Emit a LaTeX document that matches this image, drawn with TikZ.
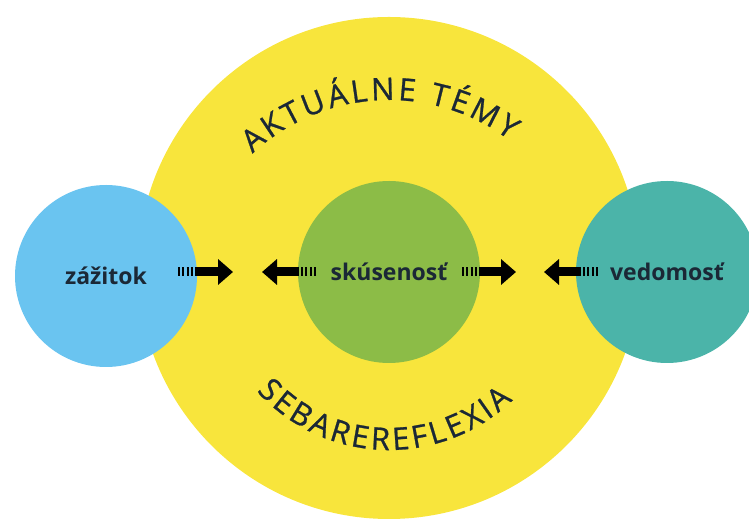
\documentclass[tikz,border=0pt]{standalone}
\usepackage{fontspec}
\setmainfont{Open Sans}
\usepackage{tikz}
\usetikzlibrary{arrows.meta,positioning,calc,decorations.text}
\definecolor{CYellow}{HTML}{F8E53C}
\definecolor{CBlue}{HTML}{6AC4F0}
\definecolor{CGreen}{HTML}{8CBC47}
\definecolor{CTeal}{HTML}{4BB4A9}
\definecolor{CInk}{HTML}{1B2836}
\newcommand{\ringfont}{\fontsize{31}{36}\selectfont\addfontfeatures{FakeBold=0.8}}

\begin{document}
\begin{tikzpicture}[
  x=1pt,y=1pt,
  c/.style={circle,inner sep=0pt,minimum size=182pt,
    font=\fontsize{23}{26}\selectfont\bfseries,text=CInk},
  s/.style={line width=9pt,dash pattern=on 2pt off 2.3pt},
  a/.style={line width=9pt,-{Triangle[length=15pt,width=25pt]}},
  ring/.style={decorate,decoration={text along path,
    text align=fit to path,text color=CInk}}
]
  \useasboundingbox (0,0) rectangle (749,524);
  \node[circle,fill=CYellow,inner sep=0pt,minimum size=502pt] (tema) at (389,256) {};
  \node[c,fill=CBlue] (zaz) at (106,248) {zážitok};
  \node[c,fill=CGreen] (sku) at (389,252) {skúsenosť};
  \node[c,fill=CTeal] (ved) at (667,252) {vedomosť};
  % text round the ring
  \path[ring,decoration={text={|\ringfont|AKTUÁLNE TÉMY}}]
    ($(tema.center)+(0,-32)$) ++(133:200) arc[start angle=133,end angle=53,radius=200];
  \path[ring,decoration={text={|\ringfont|SEBAREREFLEXIA}}]
    ($(tema.center)+(0,-4)$) ++(222:178) arc[start angle=222,end angle=314,radius=178];
  % arrows
  \coordinate (t1) at (178,252); \coordinate (h1) at (233,252);
  \coordinate (t2) at (316,252); \coordinate (h2) at (262,252);
  \coordinate (t3) at (462,252); \coordinate (h3) at (516,252);
  \coordinate (t4) at (598,252); \coordinate (h4) at (544,252);
  \foreach \t/\h in {t1/h1,t2/h2,t3/h3,t4/h4}
    {\draw[s] (\t) -- ($(\t)!0.34!(\h)$);
     \draw[a] ($(\t)!0.33!(\h)$) -- (\h);}
\end{tikzpicture}
\end{document}
